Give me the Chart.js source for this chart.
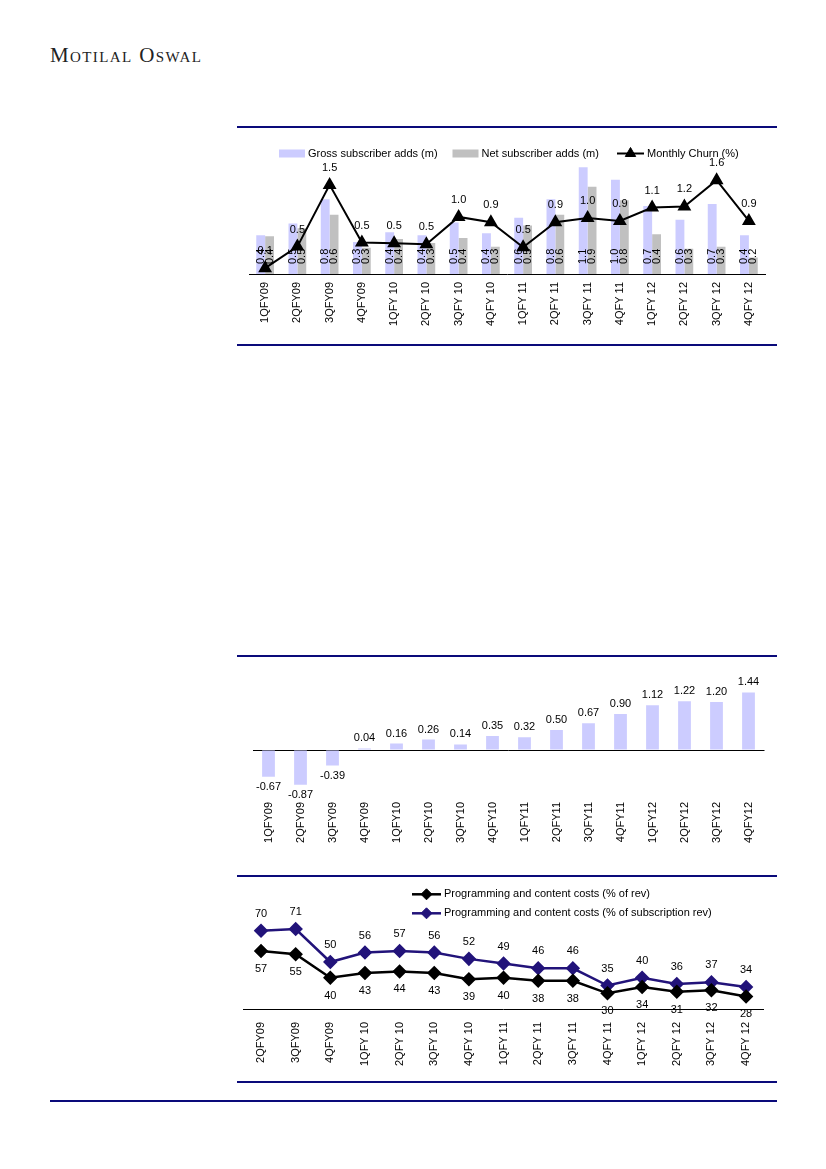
<!DOCTYPE html>
<html lang="en">
<head>
<meta charset="UTF-8">
<title>Subscriber adds, net adds per quarter, programming costs</title>
<script src="https://cdn.jsdelivr.net/npm/chart.js"></script>
<style>
    body {
        margin: 0;
        width: 826px;
        height: 1169px;
        position: relative;
        background: #fff;
        font-family: 'Liberation Sans', Arial, sans-serif;
    }
    .brand {
        position: absolute;
        left: 50px;
        top: 43px;
        font-family: 'Liberation Serif', serif;
        font-variant: small-caps;
        font-size: 21px;
        letter-spacing: 1.4px;
        color: #222;
    }
    .rule {
        position: absolute;
        height: 1.5px;
        background: #0a0a7a;
    }
    .box {
        position: absolute;
        left: 225px;
        width: 560px;
    }
</style>
</head>
<body>

<div class="brand">Motilal Oswal</div>

<div class="rule" style="left:237px; width:540px; top:126px;"></div>
<div class="rule" style="left:237px; width:540px; top:344px;"></div>
<div class="rule" style="left:237px; width:540px; top:655px;"></div>
<div class="rule" style="left:237px; width:540px; top:875px;"></div>
<div class="rule" style="left:237px; width:540px; top:1081px;"></div>
<div class="rule" style="left:50px; width:727px; top:1100px;"></div>

<div class="box" style="top:128px; height:216px;"><canvas id="addsChart"></canvas></div>
<div class="box" style="top:656px; height:214px;"><canvas id="netChart"></canvas></div>
<div class="box" style="top:876px; height:204px;"><canvas id="costChart"></canvas></div>

<script>
    // chart 1: gross / net subscriber adds and monthly churn
    const quarters1 = ['1QFY09', '2QFY09', '3QFY09', '4QFY09', '1QFY 10', '2QFY 10', '3QFY 10', '4QFY 10',
                       '1QFY 11', '2QFY 11', '3QFY 11', '4QFY 11', '1QFY 12', '2QFY 12', '3QFY 12', '4QFY 12'];
    const grossAdds = [0.40, 0.52, 0.77, 0.33, 0.43, 0.40, 0.53, 0.42, 0.58, 0.77, 1.10, 0.97, 0.70, 0.56, 0.72, 0.40];
    const netAdds   = [0.39, 0.47, 0.61, 0.27, 0.36, 0.32, 0.37, 0.28, 0.50, 0.61, 0.90, 0.76, 0.41, 0.26, 0.28, 0.17];
    const churn     = [0.10, 0.47, 1.53, 0.54, 0.53, 0.51, 0.98, 0.89, 0.46, 0.89, 0.96, 0.91, 1.14, 1.16, 1.61, 0.91];

    // chart 2: net adds per quarter
    const quarters2 = ['1QFY09', '2QFY09', '3QFY09', '4QFY09', '1QFY10', '2QFY10', '3QFY10', '4QFY10',
                       '1QFY11', '2QFY11', '3QFY11', '4QFY11', '1QFY12', '2QFY12', '3QFY12', '4QFY12'];
    const netPerQuarter = [-0.67, -0.87, -0.39, 0.04, 0.16, 0.26, 0.14, 0.35, 0.32, 0.50, 0.67, 0.90, 1.12, 1.22, 1.20, 1.44];

    // chart 3: programming and content costs
    const quarters3 = ['2QFY09', '3QFY09', '4QFY09', '1QFY 10', '2QFY 10', '3QFY 10', '4QFY 10', '1QFY 11',
                       '2QFY 11', '3QFY 11', '4QFY 11', '1QFY 12', '2QFY 12', '3QFY 12', '4QFY 12'];
    const costPctRev = [57, 55, 40, 43, 44, 43, 39, 40, 38, 38, 30, 34, 31, 32, 28];
    const costPctSub = [70, 71, 50, 56, 57, 56, 52, 49, 46, 46, 35, 40, 36, 37, 34];

    const FONT = '11px "Liberation Sans"';
    Chart.defaults.font.family = 'Liberation Sans';
    Chart.defaults.font.size = 11;
    Chart.defaults.color = '#000';
    Chart.defaults.animation = false;

    // value labels next to bars / points
    const valueLabels = {
        id: 'valueLabels',
        afterDatasetsDraw(chart) {
            const ctx = chart.ctx;
            chart.data.datasets.forEach((ds, i) => {
                const lab = ds.valueLabel;
                if (!lab) return;
                const meta = chart.getDatasetMeta(i);
                ctx.save();
                ctx.font = FONT;
                ctx.fillStyle = '#000';
                meta.data.forEach((el, j) => {
                    const v = ds.data[j];
                    const txt = v.toFixed(lab.digits);
                    if (lab.pos === 'base') {
                        ctx.save();
                        ctx.translate(el.x, el.base - lab.offset);
                        ctx.rotate(-Math.PI / 2);
                        ctx.textAlign = 'left';
                        ctx.textBaseline = 'middle';
                        ctx.fillText(txt, 0, 0);
                        ctx.restore();
                        return;
                    }
                    let y;
                    if (lab.pos === 'end') y = v >= 0 ? el.y - lab.offset : el.y + lab.offset;
                    else if (lab.pos === 'above') y = el.y - lab.offset;
                    else y = el.y + lab.offset;
                    ctx.textAlign = 'center';
                    ctx.textBaseline = 'middle';
                    ctx.fillText(txt, el.x, y);
                });
                ctx.restore();
            });
        }
    };

    // small legend drawn at fixed spots
    const legendItems = {
        id: 'legendItems',
        afterDraw(chart, args, opts) {
            const ctx = chart.ctx;
            ctx.save();
            ctx.font = FONT;
            ctx.textBaseline = 'middle';
            ctx.textAlign = 'left';
            (opts.items || []).forEach(it => {
                const ds = chart.data.datasets[it.dataset];
                if (it.kind === 'box') {
                    ctx.fillStyle = ds.backgroundColor;
                    ctx.fillRect(it.x, it.y - 4, it.w, 8);
                } else {
                    ctx.strokeStyle = ds.borderColor;
                    ctx.lineWidth = ds.borderWidth;
                    ctx.beginPath();
                    ctx.moveTo(it.x, it.y);
                    ctx.lineTo(it.x + it.w, it.y);
                    ctx.stroke();
                    ctx.fillStyle = ds.pointBackgroundColor;
                    ctx.lineWidth = 1;
                    Chart.helpers.drawPoint(ctx, { pointStyle: ds.pointStyle, radius: ds.pointRadius, borderWidth: 1 },
                        it.x + it.w / 2, it.y);
                }
                ctx.fillStyle = '#000';
                ctx.fillText(ds.label, it.x + it.w + 3, it.y);
            });
            ctx.restore();
        }
    };

    function xAxis(height, pad) {
        return {
            offset: true,
            grid: { display: false, drawTicks: false },
            border: { display: true, color: '#000', width: 1 },
            ticks: { minRotation: 90, maxRotation: 90, autoSkip: false, padding: pad, color: '#000' },
            afterFit: s => { s.height = height; }
        };
    }

    // ---- chart 1
    new Chart(document.getElementById('addsChart'), {
        type: 'bar',
        data: {
            labels: quarters1,
            datasets: [
                {
                    type: 'line',
                    label: 'Monthly Churn (%)',
                    data: churn,
                    yAxisID: 'y1',
                    order: 0,
                    borderColor: '#000',
                    borderWidth: 2,
                    pointStyle: 'triangle',
                    pointRadius: 6,
                    pointBackgroundColor: '#000',
                    pointBorderColor: '#000',
                    tension: 0,
                    valueLabel: { pos: 'above', offset: 17, digits: 1 }
                },
                {
                    label: 'Gross subscriber adds (m)',
                    data: grossAdds,
                    order: 1,
                    backgroundColor: '#ccccff',
                    categoryPercentage: 0.55,
                    barPercentage: 1,
                    valueLabel: { pos: 'base', offset: 10, digits: 1 }
                },
                {
                    label: 'Net subscriber adds (m)',
                    data: netAdds,
                    order: 1,
                    backgroundColor: '#c0c0c0',
                    categoryPercentage: 0.55,
                    barPercentage: 1,
                    valueLabel: { pos: 'base', offset: 10, digits: 1 }
                }
            ]
        },
        options: {
            responsive: true,
            maintainAspectRatio: false,
            layout: { padding: { left: 24, right: 20, top: 29.5, bottom: 0 } },
            plugins: {
                legend: { display: false },
                tooltip: { enabled: false },
                legendItems: {
                    items: [
                        { dataset: 1, kind: 'box', x: 54, y: 25.5, w: 26 },
                        { dataset: 2, kind: 'box', x: 227.5, y: 25.5, w: 26 },
                        { dataset: 0, kind: 'line', x: 392, y: 25.5, w: 27 }
                    ]
                }
            },
            scales: {
                x: xAxis(70, 8),
                y: { display: false, min: 0, max: 1.2 },
                y1: { display: false, min: 0, max: 2.0, position: 'right' }
            }
        },
        plugins: [valueLabels, legendItems]
    });

    // ---- chart 2
    new Chart(document.getElementById('netChart'), {
        type: 'bar',
        data: {
            labels: quarters2,
            datasets: [{
                label: 'Net adds (m)',
                data: netPerQuarter,
                backgroundColor: '#ccccff',
                categoryPercentage: 0.8,
                barPercentage: 0.5,
                valueLabel: { pos: 'end', offset: 10, digits: 2 }
            }]
        },
        options: {
            responsive: true,
            maintainAspectRatio: false,
            layout: { padding: { left: 27.5, right: 20.5, top: 26, bottom: 0 } },
            plugins: { legend: { display: false }, tooltip: { enabled: false } },
            scales: {
                x: Object.assign(xAxis(72, 4), { border: { display: false } }),
                y: {
                    min: -1.2,
                    max: 1.7,
                    ticks: { display: false, stepSize: 0.1 },
                    border: { display: false },
                    grid: {
                        drawTicks: false,
                        lineWidth: 1,
                        color: c => (Math.abs(c.tick.value) < 1e-9 ? '#000' : 'rgba(0,0,0,0)')
                    }
                }
            }
        },
        plugins: [valueLabels]
    });

    // ---- chart 3
    new Chart(document.getElementById('costChart'), {
        type: 'line',
        data: {
            labels: quarters3,
            datasets: [
                {
                    label: 'Programming and content costs (% of rev)',
                    data: costPctRev,
                    borderColor: '#000',
                    borderWidth: 2.5,
                    pointStyle: 'rectRot',
                    pointRadius: 5.5,
                    pointBackgroundColor: '#000',
                    pointBorderColor: '#000',
                    tension: 0,
                    valueLabel: { pos: 'below', offset: 18, digits: 0 }
                },
                {
                    label: 'Programming and content costs (% of subscription rev)',
                    data: costPctSub,
                    borderColor: '#22137a',
                    borderWidth: 2.5,
                    pointStyle: 'rectRot',
                    pointRadius: 5.5,
                    pointBackgroundColor: '#22137a',
                    pointBorderColor: '#22137a',
                    tension: 0,
                    valueLabel: { pos: 'above', offset: 17, digits: 0 }
                }
            ]
        },
        options: {
            responsive: true,
            maintainAspectRatio: false,
            layout: { padding: { left: 18.7, right: 21.6, top: 39, bottom: 0 } },
            plugins: {
                legend: { display: false },
                tooltip: { enabled: false },
                legendItems: {
                    items: [
                        { dataset: 0, kind: 'line', x: 187, y: 18.3, w: 29 },
                        { dataset: 1, kind: 'line', x: 187, y: 37.3, w: 29 }
                    ]
                }
            },
            scales: {
                x: xAxis(71, 13),
                y: { display: false, min: 20, max: 80 }
            }
        },
        plugins: [valueLabels, legendItems]
    });
</script>
</body>
</html>
